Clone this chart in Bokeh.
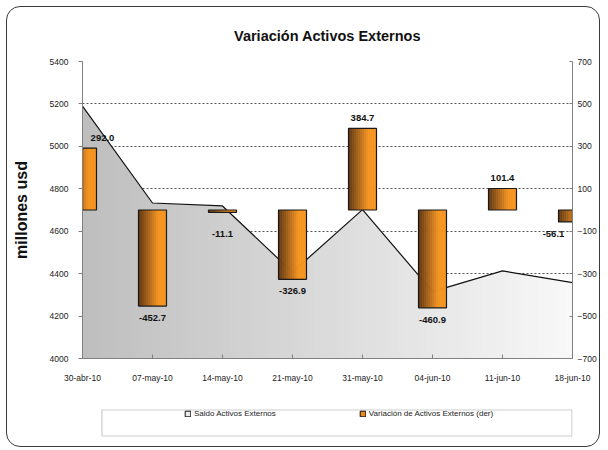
import numpy as np
from bokeh.plotting import figure
from bokeh.layouts import column
from bokeh.models import (Range1d, LinearAxis, FixedTicker, SingleIntervalTicker,
                          Legend, LegendItem, ColumnDataSource, BoxAnnotation)
from bokeh.core.properties import value
from bokeh.embed import file_html
from bokeh.resources import INLINE

# ---- data ----
fechas = ["30-abr-10", "07-may-10", "14-may-10", "21-may-10",
          "31-may-10", "04-jun-10", "11-jun-10", "18-jun-10"]
saldo = [5190, 4733, 4719, 4407, 4702, 4315, 4413, 4358]
variacion = [292.0, -452.7, -11.1, -326.9, 384.7, -460.9, 101.4, -56.1]
left_ticks = list(range(4000, 5401, 200))
right_ticks = list(range(-700, 701, 200))
serie_area = "Saldo Activos Externos"
serie_barras = "Variación de Activos Externos (der)"

FONT = "'Liberation Sans', Arial, sans-serif"

xs = np.arange(len(fechas), dtype=float)
n = len(fechas)
W = 592

p = figure(width=W, height=393, output_backend="svg", toolbar_location=None,
           x_range=Range1d(0, n - 1), y_range=Range1d(4000, 5400),
           min_border_left=75, min_border_right=25, min_border_top=53, min_border_bottom=42,
           background_fill_color="white", border_fill_alpha=0)
p.extra_y_ranges = {"right": Range1d(-700, 700)}
p.outline_line_color = None

# title
p.title.text = "Variación Activos Externos"
p.title.align = "center"
p.title.text_font = FONT
p.title.text_font_size = "14.5px"
p.title.text_font_style = "bold"
p.title.text_color = "#111111"
p.title.standoff = 36

# grid
p.xgrid.visible = False
p.ygrid.ticker = FixedTicker(ticks=left_ticks[1:-1])
p.ygrid.grid_line_color = "#555555"
p.ygrid.grid_line_dash = "2 2"
p.ygrid.grid_line_width = 1

# axes
xa = p.xaxis[0]
xa.ticker = FixedTicker(ticks=list(range(n)))
xa.major_label_overrides = {i: f for i, f in enumerate(fechas)}
xa.major_tick_in = 4
xa.major_tick_out = 0
xa.minor_tick_line_color = None
xa.axis_line_color = "#808080"
xa.major_tick_line_color = "#808080"
xa.major_label_text_font = FONT
xa.major_label_text_font_size = "8.5px"
xa.major_label_text_color = "#1a1a1a"
xa.major_label_standoff = 14

ya = p.yaxis[0]
ya.ticker = SingleIntervalTicker(interval=200)
ya.major_tick_in = 0
ya.major_tick_out = 4
ya.minor_tick_line_color = None
ya.axis_line_color = "#808080"
ya.major_tick_line_color = "#808080"
ya.major_label_text_font = FONT
ya.major_label_text_font_size = "8.5px"
ya.major_label_text_color = "#1a1a1a"
ya.major_label_standoff = 10
ya.axis_label = "millones usd"
ya.axis_label_text_font = FONT
ya.axis_label_text_font_size = "16px"
ya.axis_label_text_font_style = "bold"
ya.axis_label_text_color = "#111111"
ya.axis_label_standoff = 17

ra = LinearAxis(y_range_name="right", ticker=FixedTicker(ticks=right_ticks))
ra.major_tick_in = 3
ra.major_tick_out = 0
ra.minor_tick_line_color = None
ra.axis_line_color = "#808080"
ra.major_tick_line_color = "#808080"
ra.major_label_text_font = FONT
ra.major_label_text_font_size = "8.5px"
ra.major_label_text_color = "#1a1a1a"
ra.major_label_standoff = 5
p.add_layout(ra, "right")

# area with horizontal gradient (gray -> near white), drawn as thin strips
NS = 70
edges = np.linspace(0, n - 1, NS + 1)
g0, g1 = 190, 248
for k in range(NS):
    a, b = edges[k], edges[k + 1]
    bb = min(b + 0.02, n - 1)
    sx = [a] + [v for v in xs if a < v < bb] + [bb]
    sy = np.interp(sx, xs, saldo)
    t = (a + b) / 2 / (n - 1)
    g = int(round(g0 + (g1 - g0) * t))
    col = "#%02x%02x%02x" % (g, g, g)
    p.varea(x=sx, y1=4000, y2=sy, fill_color=col, fill_alpha=1)
p.line(xs, saldo, line_color="#111111", line_width=1.2)

# bars with horizontal gradient (dark brown at left -> orange at right)
bw = 0.4
NB = 14
c0 = np.array([92, 52, 18])
c1 = np.array([246, 148, 32])
src = ColumnDataSource(dict(x=xs, top=variacion, saldo=saldo))
for k in range(NB):
    t = (k + 0.5) / NB
    tt = min(t / 0.72, 1.0)
    c = (c0 + (c1 - c0) * tt).round().astype(int)
    col = "#%02x%02x%02x" % tuple(c)
    off = -bw / 2 + (k + 0.5) * bw / NB
    p.vbar(x=xs + off, width=bw / NB * 1.3, bottom=0, top=variacion,
           fill_color=col, line_color=None, y_range_name="right")
p.vbar(x="x", width=bw, bottom=0, top="top", source=src, fill_color=None,
       line_color="#1a1a1a", line_width=1.2, y_range_name="right")

# labels
lab = [f"{v:.1f}" for v in variacion]
yoff = [-10 if v > 0 else (12 if v < -30 else 22) for v in variacion]
xoff = [20 if i == 0 else (-19 if i == n - 1 else 0) for i in range(n)]
lsrc = ColumnDataSource(dict(x=xs, y=variacion, t=lab, yo=yoff, xo=xoff))
p.text(x="x", y="y", text="t", source=lsrc, y_range_name="right",
       x_offset="xo", y_offset="yo", text_align="center", text_baseline="middle",
       text_font=value(FONT), text_font_size="9.5px", text_font_style="bold",
       text_color="#111111")

# ---- legend strip (second figure, same horizontal borders) ----
p2 = figure(width=W, height=46, output_backend="svg", toolbar_location=None,
            x_range=Range1d(0, 492), y_range=Range1d(0, 46),
            x_axis_type=None, y_axis_type=None,
            min_border_left=75, min_border_right=25, min_border_top=0, min_border_bottom=0,
            background_fill_alpha=0, border_fill_alpha=0)
p2.grid.visible = False
p2.outline_line_color = None
p2.add_layout(BoxAnnotation(left=19.5, right=491.5, bottom=10.5, top=36.5,
                            fill_color="white", fill_alpha=1,
                            line_color="#555555", line_width=1.2))
r1 = p2.vbar(x="x", top="saldo", width=0.4, source=src, fill_color="#ececec",
             line_color="#111111", visible=False)
r2 = p2.vbar(x="x", top="top", width=0.4, source=src, fill_color="#ee8a1c",
             line_color="#111111", visible=False)
leg = Legend(items=[LegendItem(label=serie_area, renderers=[r1]),
                    LegendItem(label=serie_barras, renderers=[r2])],
             orientation="horizontal", location=(102, 28), padding=0, spacing=83,
             margin=0, border_line_color=None, background_fill_alpha=0,
             glyph_width=7, glyph_height=7, label_standoff=3,
             label_text_font=FONT, label_text_font_size="8px", label_text_color="#222222")
p2.add_layout(leg)

lay = column(p, p2, spacing=0)
lay.styles = {"border": "1.5px solid #3a3a3a", "border-radius": "14px",
              "margin-left": "6px", "margin-top": "6px",
              "background-color": "white", "overflow": "hidden"}

open("out.html", "w").write(file_html(lay, INLINE))
